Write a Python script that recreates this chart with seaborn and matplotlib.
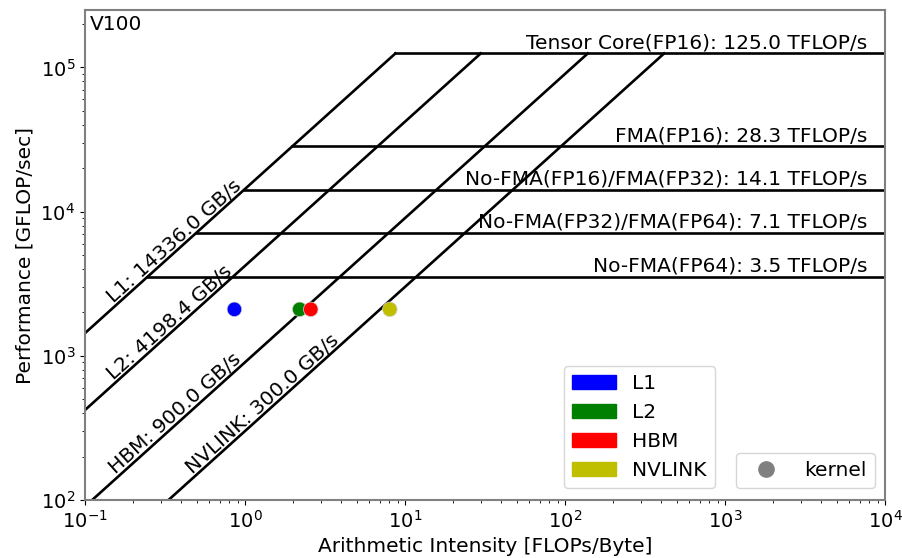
import matplotlib
matplotlib.use("Agg")
import matplotlib.pyplot as plt
import matplotlib.patches as mpatches
from matplotlib.lines import Line2D
import seaborn as sns
import numpy as np
import pandas as pd

device = "V100"

# memory ceilings (GB/s)
mem_levels = ["L1", "L2", "HBM", "NVLINK"]
mem_bw = [14336.0, 4198.4, 900.0, 300.0]
mem_colors = ["b", "g", "r", "y"]

# compute ceilings (GFLOP/s)
comp_names = [
    "Tensor Core(FP16)",
    "FMA(FP16)",
    "No-FMA(FP16)/FMA(FP32)",
    "No-FMA(FP32)/FMA(FP64)",
    "No-FMA(FP64)",
]
comp_peak = [125000.0, 28300.0, 14100.0, 7100.0, 3500.0]

# kernel measurements, one per memory level
kernel_ai = [0.86, 2.2, 2.58, 8.05]
kernel_perf = [2100.0, 2100.0, 2100.0, 2100.0]

xmin, xmax = 0.1, 1e4
ymin, ymax = 1e2, 2.5e5

plt.rcParams["font.size"] = 14.5
plt.rcParams["xtick.labelsize"] = 14
plt.rcParams["ytick.labelsize"] = 14
fig = plt.figure(figsize=(9.03, 5.58), dpi=100)
ax = fig.add_axes([0.094, 0.104, 0.886, 0.878])
ax.set_xscale("log")
ax.set_yscale("log")
ax.set_xlim(xmin, xmax)
ax.set_ylim(ymin, ymax)

# angle of a bandwidth line on screen
p1 = ax.transData.transform((1, 1000))
p2 = ax.transData.transform((10, 10000))
angle = np.degrees(np.arctan2(p2[1] - p1[1], p2[0] - p1[0]))

top = max(comp_peak)
for lvl, bw in zip(mem_levels, mem_bw):
    ridge = top / bw
    ax.plot([xmin, ridge], [bw * xmin, top], color="k", lw=1.9)
    lx = max(0.155, 145 / bw)
    ax.annotate(f"{lvl}: {bw:.1f} GB/s", (lx, bw * lx), xytext=(-1.5, 1.5),
                textcoords="offset points", rotation=angle,
                rotation_mode="anchor", ha="left", va="baseline")

for name, peak in zip(comp_names, comp_peak):
    start = peak / max(mem_bw)
    ax.plot([start, xmax], [peak, peak], color="k", lw=1.9)
    ax.annotate(f"{name}: {peak / 1000:.1f} TFLOP/s", (7800, peak),
                xytext=(0, 1), textcoords="offset points",
                ha="right", va="bottom")

df = pd.DataFrame({"ai": kernel_ai, "perf": kernel_perf, "level": mem_levels})
sns.scatterplot(data=df, x="ai", y="perf", hue="level", palette=mem_colors,
                s=110, edgecolor="lightgray", linewidth=0.5, legend=False,
                ax=ax, zorder=3)

ax.set_xlabel("Arithmetic Intensity [FLOPs/Byte]")
ax.set_ylabel("Performance [GFLOP/sec]")
ax.text(0.006, 0.99, device, transform=ax.transAxes, ha="left", va="top")

for sp in ax.spines.values():
    sp.set_color("gray")
    sp.set_linewidth(1.5)

handles = [mpatches.Patch(color=c, label=l) for l, c in zip(mem_levels, mem_colors)]
leg1 = ax.legend(handles=handles, loc="lower right", bbox_to_anchor=(0.80, 0.003),
                 handlelength=2.2)
ax.add_artist(leg1)
kernel = Line2D([], [], marker="o", color="gray", linestyle="", markersize=11,
                label="kernel")
ax.legend(handles=[kernel], loc="lower right", bbox_to_anchor=(1.0, 0.003),
          handlelength=2.2)

fig.savefig("out.png", dpi=100)
